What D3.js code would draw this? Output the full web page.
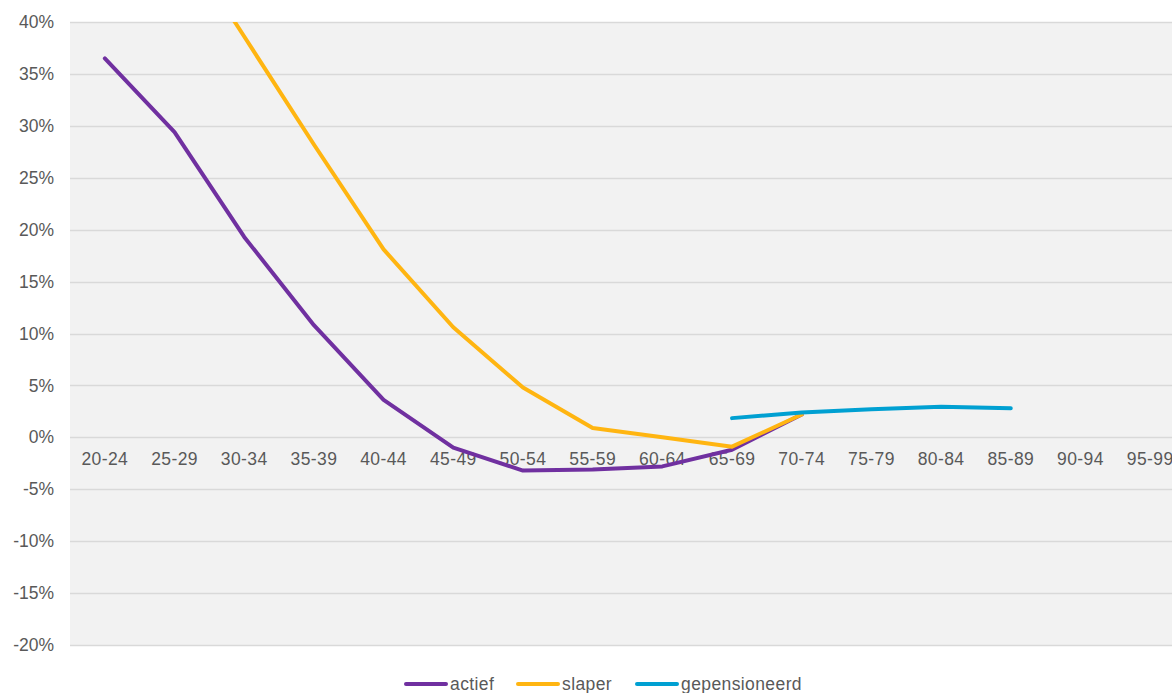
<!DOCTYPE html>
<html>
<head>
<meta charset="utf-8">
<script src="https://cdn.jsdelivr.net/npm/d3@7"></script>
<style>
  html, body { margin: 0; padding: 0; background: #ffffff; }
  svg { display: block; font-family: "Liberation Sans", Arial, sans-serif; }
</style>
</head>
<body>
<svg id="chart" width="1172" height="693"></svg>
<script>
// Age bands
const categories = ["20-24","25-29","30-34","35-39","40-44","45-49","50-54","55-59",
                    "60-64","65-69","70-74","75-79","80-84","85-89","90-94","95-99"];

// Values in percent (null = no value)
const actief = [36.5, 29.4, 19.3, 10.8, 3.6, -1.0, -3.2, -3.1, -2.8, -1.2, 2.2,
                null, null, null, null, null];
const slaper = [null, 49.0, 38.6, 28.2, 18.1, 10.6, 4.8, 0.9, 0.0, -0.9, 2.2,
                null, null, null, null, null];
const gepensioneerd = [null, null, null, null, null, null, null, null, null, 1.85, 2.4,
                       2.7, 2.95, 2.8, null, null];

const yTicks = [40, 35, 30, 25, 20, 15, 10, 5, 0, -5, -10, -15, -20];

const seriesList = [
  { name: "actief", values: actief, color: "#7030a0" },
  { name: "slaper", values: slaper, color: "#ffb511" },
  { name: "gepensioneerd", values: gepensioneerd, color: "#00a0d2" }
];

const FONT = "'Liberation Sans', Arial, sans-serif";
const FONT_SIZE = "17.5px";
const TEXT_COLOR = "#595959";

const svg = d3.select("#chart");
const plot = { left: 70, top: 22, right: 1185, bottom: 645 };

const x = d3.scaleBand().domain(categories).range([plot.left, plot.right]).padding(0);
const y = d3.scaleLinear().domain([-20, 40]).range([plot.bottom, plot.top]);

// Plot background
svg.append("rect")
  .attr("x", plot.left).attr("y", plot.top)
  .attr("width", plot.right - plot.left).attr("height", plot.bottom - plot.top)
  .attr("fill", "#f2f2f2");

// Horizontal gridlines
svg.append("g").selectAll("line").data(yTicks).join("line")
  .attr("x1", plot.left).attr("x2", plot.right)
  .attr("y1", d => Math.round(y(d)) + 0.5).attr("y2", d => Math.round(y(d)) + 0.5)
  .attr("stroke", "#d9d9d9").attr("stroke-width", 1.5);

// Y axis labels
const yAxis = d3.axisLeft(y).tickValues(yTicks).tickFormat(d => d + "%").tickSize(0).tickPadding(0);
svg.append("g")
  .attr("transform", `translate(${plot.left - 16},0)`)
  .call(yAxis)
  .call(g => g.select(".domain").remove())
  .call(g => g.selectAll("text")
    .attr("fill", TEXT_COLOR).attr("font-size", FONT_SIZE).attr("font-family", FONT));

// Category labels next to the zero line
const xAxis = d3.axisBottom(x).tickSize(0).tickPadding(0);
svg.append("g")
  .attr("transform", `translate(0,${y(0) + 15})`)
  .call(xAxis)
  .call(g => g.select(".domain").remove())
  .call(g => g.selectAll("text")
    .attr("fill", TEXT_COLOR).attr("font-size", FONT_SIZE).attr("font-family", FONT)
    .attr("letter-spacing", "0.4px"));

// Clip the lines to the plotting area
svg.append("clipPath").attr("id", "plotClip")
  .append("rect")
  .attr("x", plot.left).attr("y", plot.top)
  .attr("width", plot.right - plot.left).attr("height", plot.bottom - plot.top);

const line = d3.line()
  .defined(d => d.v !== null)
  .x(d => x(d.c) + x.bandwidth() / 2)
  .y(d => y(d.v));

const lines = svg.append("g").attr("clip-path", "url(#plotClip)");
seriesList.forEach(s => {
  const pts = categories.map((c, i) => ({ c, v: s.values[i] }));
  lines.append("path")
    .datum(pts)
    .attr("d", line)
    .attr("fill", "none")
    .attr("stroke", s.color)
    .attr("stroke-width", 4)
    .attr("stroke-linejoin", "round")
    .attr("stroke-linecap", "round");
});

// Legend
const legendItems = [
  { s: seriesList[0], x: 406 },
  { s: seriesList[1], x: 518 },
  { s: seriesList[2], x: 637 }
];
const legendY = 684;
const lg = svg.append("g");
legendItems.forEach(it => {
  lg.append("line")
    .attr("x1", it.x).attr("x2", it.x + 40)
    .attr("y1", legendY).attr("y2", legendY)
    .attr("stroke", it.s.color).attr("stroke-width", 4).attr("stroke-linecap", "round");
  lg.append("text")
    .attr("x", it.x + 44).attr("y", legendY + 6)
    .attr("fill", TEXT_COLOR).attr("font-size", FONT_SIZE).attr("font-family", FONT)
    .attr("letter-spacing", "0.4px")
    .text(it.s.name);
});
</script>
</body>
</html>
